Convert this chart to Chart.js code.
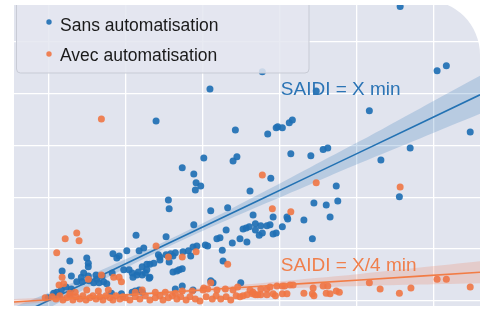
<!DOCTYPE html>
<html><head><meta charset="utf-8">
<script src="https://cdn.jsdelivr.net/npm/chart.js@4.4.1/dist/chart.umd.min.js"></script>
<style>html,body{margin:0;padding:0;background:#fff}#wrap{width:488px;height:311px}</style>
</head><body><div id="wrap"><canvas id="c" width="488" height="311"></canvas></div>
<script>
const seriesLabels = ['Sans automatisation', 'Avec automatisation'];
const fitLabels = ['SAIDI = X min', 'SAIDI = X/4 min'];
const xTicks = [10, 20, 30, 40, 50, 60];
const yTicks = [0, 10, 20, 30, 40, 50];
const xRange = [5.45, 65.97];
const yRange = [-0.97, 57.1];

const blueX = [55.6,60.4,61.6,30.9,44.7,51.6,23.9,34.2,38.4,39.5,
39.7,40.3,41.2,41.6,64.7,41.4,44.0,45.6,46.2,56.9,
53.1,30.1,33.9,34.4,27.3,28.8,29.1,29.7,29.0,38.8,
36.1,25.5,25.6,31.0,33.2,47.3,55.5,44.4,46.0,47.5,
36.5,39.1,40.9,41.0,43.1,46.5,36.8,37.5,36.8,37.3,
37.7,38.3,38.7,40.3,39.1,39.5,35.2,35.6,36.0,35.7,
34.8,44.2,28.8,21.3,25.2,34.9,14.9,12.7,18.3,19.1,
18.8,20.1,21.7,22.3,24.2,24.4,25.5,26.4,26.1,25.6,
27.4,28.1,28.7,29.2,30.3,30.6,28.4,32.5,33.8,31.8,
32.2,33.0,32.6,11.7,14.5,14.2,15.1,12.9,16.1,16.9,
16.2,13.6,14.3,15.2,15.8,16.5,17.1,17.5,18.2,19.7,
20.4,12.2,12.9,11.6,11.0,10.6,18.1,19.4,20.8,21.4,
20.9,22.1,22.7,23.1,23.6,22.7,22.5,23.1,22.1,21.6,
26.1,26.6,26.9,27.3,31.3,26.4,28.7,23.0,31.0,27.3,
20.8,21.2,21.7,22.1,15.1,15.1,9.9,11.2,24.4,25.2,
25.8,37.7];
const blueY = [56.8,44.4,45.4,40.9,40.5,36.7,34.7,33.0,32.2,33.4,
33.6,33.4,34.4,34.9,32.6,28.4,28.0,29.2,29.5,29.5,
27.2,27.6,27.0,27.8,25.7,24.5,22.8,22.2,21.4,23.7,
21.2,19.5,17.8,17.4,18.0,22.2,20.1,18.9,18.5,19.3,
16.6,16.2,16.2,15.8,15.6,16.2,14.9,14.5,13.7,12.7,
13.1,14.5,14.7,14.3,12.9,13.1,13.9,14.1,14.3,11.4,
12.0,12.0,14.7,12.7,12.4,3.5,8.3,7.7,9.1,8.7,
8.3,9.7,9.7,10.2,8.9,8.5,8.7,9.3,8.7,7.5,
9.5,9.7,10.4,10.6,10.8,10.6,8.7,9.8,11.2,12.0,
12.2,13.7,7.7,5.8,5.4,4.6,4.8,4.8,5.0,4.8,
4.2,3.7,3.7,3.9,3.5,3.5,3.7,3.3,5.4,6.0,
6.0,2.7,2.3,2.1,1.7,1.5,1.5,1.4,5.4,5.0,
4.6,6.6,7.1,7.1,7.3,6.0,5.4,4.6,5.0,5.6,
5.6,5.8,6.0,6.2,3.5,2.3,2.1,4.4,3.9,2.9,
1.7,1.9,2.1,1.7,7.3,6.6,0.6,1.0,7.9,8.9,
9.1,44.2];

const orangeX = [16.8,37.7,44.7,55.6,39.0,41.4,13.6,12.1,13.9,11.0,
23.9,25.5,27.3,29.1,33.2,11.7,16.8,18.4,19.1,19.4,
11.3,11.9,14.9,15.1,31.0,30.1,29.6,36.1,36.5,37.5,
38.3,38.7,39.6,40.3,40.6,41.3,41.7,44.3,45.6,46.2,
47.3,47.7,51.6,53.0,55.5,57.0,60.4,61.6,64.7,
34.8,35.2,35.7,36.4,36.8,37.1,37.5,38.3,39.1,39.4,40.3,40.9,43.1,44.2,44.4,46.0,46.5,
21.2,22.1,23.8,25.1,26.4,27.3,28.6,30.0,30.6,31.8,32.9,33.9,34.5,
19.9,20.5,21.2,21.8,22.5,23.1,23.8,24.4,24.8,25.5,26.0,26.6,27.1,27.8,28.3,29.0,30.4,31.2,31.7,32.3,33.0,33.6,34.3,
9.5,10.4,10.9,11.4,11.8,12.3,12.7,13.1,13.5,14.0,14.4,14.8,15.3,15.7,16.1,16.6,17.0,17.4,17.9,18.3,18.7,19.2,19.6,
13.4,16.4,17.7,12.7];
const orangeY = [35.1,24.3,22.8,22.0,17.8,17.2,13.1,12.0,11.6,9.3,
10.6,8.5,8.5,9.5,7.1,4.6,5.0,4.6,4.6,3.7,
3.1,3.3,2.1,4.2,3.5,2.5,0.0,2.1,1.7,2.3,
2.3,2.7,2.9,2.9,2.9,3.1,3.1,2.5,2.9,2.9,
1.9,1.7,3.5,2.3,1.5,2.5,4.2,4.2,2.7,
0.8,1.0,1.2,1.4,1.2,1.2,1.2,1.2,1.4,1.0,1.4,1.4,1.5,1.4,1.0,1.5,1.4,
1.7,2.1,1.7,1.7,1.5,1.9,1.9,2.1,2.3,2.1,2.3,2.1,2.7,
0.6,0.2,0.8,0.4,1.0,0.2,0.6,1.0,0.2,0.6,1.0,0.4,0.8,0.2,0.8,0.4,0.8,0.4,1.0,0.4,0.8,0.2,1.0,
0.6,0.8,0.4,1.0,0.2,0.6,1.0,0.2,0.8,0.4,1.0,0.2,0.6,1.0,0.4,0.8,0.2,1.0,0.6,0.2,1.0,0.4,0.8,
1.7,1.9,2.1,1.5];

// regression fits and confidence bands, sampled along x
const fitX = [5.45, 11.43, 17.92, 24.42, 30.91, 37.40, 43.90, 50.39, 58.18, 65.97];
const blueFit  = [-3.09, 1.14, 5.73, 10.35, 14.94, 19.53, 24.13, 28.72, 34.24, 39.77];
const blueHigh = [-1.16, 2.49, 6.70, 11.03, 15.71, 20.69, 25.77, 30.84, 37.14, 43.44];
const blueLow  = [-5.02, -0.21, 4.76, 9.67, 14.17, 18.37, 22.49, 26.60, 31.34, 36.10];
const orangeFit  = [-0.19, 0.37, 0.99, 1.60, 2.22, 2.83, 3.45, 4.06, 4.80, 5.53];
const orangeHigh = [0.39, 0.76, 1.28, 1.89, 2.61, 3.41, 4.32, 5.22, 6.44, 7.65];
const orangeLow  = [-0.77, -0.02, 0.70, 1.31, 1.83, 2.25, 2.58, 2.90, 3.16, 3.41];

// label anchors (data units)
const fitLabelX = [40.1, 40.1];
const fitLabelY = [39.8, 5.8];

const BLUE = 'rgba(31,112,180,0.92)';
const BLUE_LINE = '#2372b3';
const BLUE_BAND = 'rgba(40,115,180,0.22)';
const ORANGE = 'rgba(240,118,68,0.9)';
const ORANGE_LINE = '#f27c45';
const ORANGE_BAND = 'rgba(242,120,80,0.22)';
const PLOT_BG = '#e1e4ee';
const FONT = "'Liberation Sans', Arial, Helvetica, sans-serif";

const pts = (xs, ys) => xs.map((x, i) => ({x, y: ys[i]}));

function roundRectPath(ctx, x, y, w, h, r) {
  ctx.beginPath();
  ctx.moveTo(x + r, y);
  ctx.lineTo(x + w - r, y);
  ctx.arcTo(x + w, y, x + w, y + r, r);
  ctx.lineTo(x + w, y + h - r);
  ctx.arcTo(x + w, y + h, x + w - r, y + h, r);
  ctx.lineTo(x + r, y + h);
  ctx.arcTo(x, y + h, x, y + h - r, r);
  ctx.lineTo(x, y + r);
  ctx.arcTo(x, y, x + r, y, r);
  ctx.closePath();
}

const ui = {
  id: 'ui',
  beforeDraw(chart) {
    const {ctx, chartArea: a} = chart;
    ctx.save();
    ctx.fillStyle = PLOT_BG;
    ctx.fillRect(a.left, a.top, a.right - a.left, a.bottom - a.top);
    ctx.restore();
  },
  afterDraw(chart) {
    const {ctx, chartArea: a, scales} = chart;
    // fit labels
    ctx.save();
    ctx.font = '19px ' + FONT;
    ctx.textBaseline = 'alphabetic';
    ctx.fillStyle = '#2b74b5';
    ctx.fillText(fitLabels[0], scales.x.getPixelForValue(fitLabelX[0]), scales.y.getPixelForValue(fitLabelY[0]));
    ctx.fillStyle = '#f07f4c';
    ctx.fillText(fitLabels[1], scales.x.getPixelForValue(fitLabelX[1]), scales.y.getPixelForValue(fitLabelY[1]));
    ctx.restore();

    // legend
    ctx.save();
    ctx.beginPath();
    ctx.rect(a.left, a.top, a.right - a.left, a.bottom - a.top);
    ctx.clip();
    roundRectPath(ctx, 16.5, -10, 292.5, 83, 4);
    ctx.fillStyle = 'rgba(228,231,240,0.86)';
    ctx.fill();
    ctx.strokeStyle = '#c8cbd5';
    ctx.lineWidth = 1;
    ctx.stroke();
    const cols = [BLUE, ORANGE];
    const rows = [22, 54];
    const base = [30.5, 60.5];
    ctx.font = '17.5px ' + FONT;
    for (let i = 0; i < 2; i++) {
      ctx.beginPath();
      ctx.arc(49, rows[i], 2.7, 0, Math.PI * 2);
      ctx.fillStyle = cols[i];
      ctx.fill();
      ctx.fillStyle = '#1a1a1a';
      ctx.fillText(seriesLabels[i], 60, base[i]);
    }
    ctx.restore();

    // rounded top-right corner
    ctx.save();
    const r = 55, R = a.right;
    ctx.beginPath();
    ctx.moveTo(R - r, 0);
    ctx.arcTo(R, 0, R, r, r);
    ctx.lineTo(R + 2, r);
    ctx.lineTo(R + 2, -2);
    ctx.lineTo(R - r, -2);
    ctx.closePath();
    ctx.fillStyle = '#ffffff';
    ctx.fill();
    ctx.restore();
  }
};

const lineDs = (label, data, color, order) => ({
  type: 'line', label, data, borderColor: color, borderWidth: 1.6,
  pointRadius: 0, fill: false, order, tension: 0
});
const bandDs = (label, data, color, order, fill) => ({
  type: 'line', label, data, borderColor: 'transparent', borderWidth: 0,
  backgroundColor: color, pointRadius: 0, fill, order, tension: 0.3
});

new Chart(document.getElementById('c'), {
  type: 'scatter',
  data: {
    datasets: [
      lineDs('orange fit', pts(fitX, orangeFit), ORANGE_LINE, 0),
      bandDs('orange high', pts(fitX, orangeHigh), ORANGE_BAND, 1, '+1'),
      bandDs('orange low', pts(fitX, orangeLow), 'transparent', 1, false),
      {label: seriesLabels[1], data: pts(orangeX, orangeY), backgroundColor: ORANGE,
       borderWidth: 0, pointRadius: 3.5, order: 2},
      lineDs('blue fit', pts(fitX, blueFit), BLUE_LINE, 3),
      bandDs('blue high', pts(fitX, blueHigh), BLUE_BAND, 4, '+1'),
      bandDs('blue low', pts(fitX, blueLow), 'transparent', 4, false),
      {label: seriesLabels[0], data: pts(blueX, blueY), backgroundColor: BLUE,
       borderWidth: 0, pointRadius: 3.5, order: 5}
    ]
  },
  options: {
    responsive: false,
    animation: false,
    events: [],
    layout: {padding: {left: 14, top: 5, right: 8, bottom: 5}},
    plugins: {legend: {display: false}, tooltip: {enabled: false}},
    scales: {
      x: {
        type: 'linear', min: xRange[0], max: xRange[1],
        afterBuildTicks: ax => { ax.ticks = xTicks.map(v => ({value: v})); },
        ticks: {display: false},
        grid: {color: '#ffffff', lineWidth: 1.3, drawTicks: false},
        border: {display: false}
      },
      y: {
        type: 'linear', min: yRange[0], max: yRange[1],
        afterBuildTicks: ax => { ax.ticks = yTicks.map(v => ({value: v})); },
        ticks: {display: false},
        grid: {color: '#ffffff', lineWidth: 1.3, drawTicks: false},
        border: {display: false}
      }
    }
  },
  plugins: [ui]
});
</script>
</body></html>
